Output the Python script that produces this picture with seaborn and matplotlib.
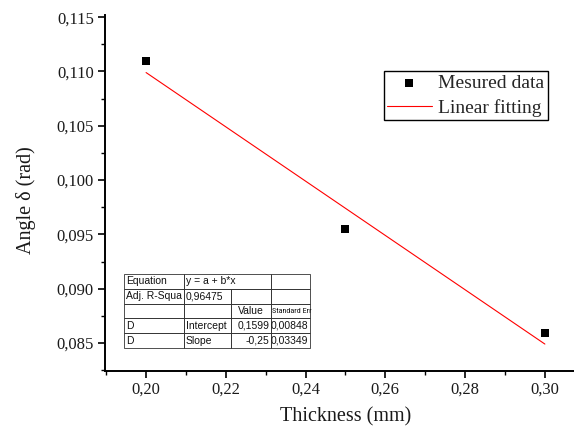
import matplotlib
matplotlib.use("Agg")
import matplotlib.pyplot as plt
import seaborn as sns
import pandas as pd
from matplotlib.ticker import MultipleLocator, FuncFormatter

sns.set_theme(style="white")
plt.rcParams['font.family'] = ['Liberation Serif', 'DejaVu Serif']

thickness = [0.20, 0.25, 0.30]
angle = [0.11095, 0.0955, 0.0859]
fit_x = [0.20, 0.30]
fit_y = [0.1099, 0.0849]

table_rows = [
    ["Equation", "y = a + b*x", "", ""],
    ["Adj. R-Squa", "0,96475", "", ""],
    ["", "", "Value", "Standard Err"],
    ["D", "Intercept", "0,1599", "0,00848"],
    ["D", "Slope", "-0,25", "0,03349"],
]

df = pd.DataFrame({"x": thickness, "y": angle})
dfit = pd.DataFrame({"x": fit_x, "y": fit_y})

fig = plt.figure(figsize=(5.74, 4.32), dpi=100)
ax = fig.add_axes([105/574, 61/432, 469/574, 356/432])

sns.scatterplot(data=df, x="x", y="y", ax=ax, marker="s", s=40, color="black",
                edgecolor="black", linewidth=0, label="Mesured data", zorder=3)
sns.lineplot(data=dfit, x="x", y="y", ax=ax, color="#ff0000", linewidth=0.8,
             label="Linear fitting")

ax.set_xlim(0.1897, 0.3073)
ax.set_ylim(0.08242, 0.1152)

for s in ["top", "right"]:
    ax.spines[s].set_visible(False)
for s in ["left", "bottom"]:
    ax.spines[s].set_color("black")
    ax.spines[s].set_linewidth(1.4)

ax.xaxis.set_major_locator(MultipleLocator(0.02))
ax.xaxis.set_minor_locator(MultipleLocator(0.01))
ax.yaxis.set_major_locator(MultipleLocator(0.005))
ax.yaxis.set_minor_locator(MultipleLocator(0.0025))
ax.xaxis.set_major_formatter(FuncFormatter(lambda v, p: f"{v:.2f}".replace(".", ",")))
ax.yaxis.set_major_formatter(FuncFormatter(lambda v, p: f"{v:.3f}".replace(".", ",")))
ax.tick_params(which="major", direction="out", length=5, width=1.2, color="black",
               labelsize=12, labelcolor="#1a1a1a", bottom=True, left=True, pad=3)
ax.tick_params(which="minor", direction="out", length=3, width=1.0, color="black",
               bottom=True, left=True)

ax.set_xlabel("Thickness (mm)", fontsize=14.5, color="#1a1a1a")
ax.set_ylabel("Angle δ (rad)", fontsize=14.5, color="#1a1a1a")
ax.xaxis.set_label_coords(0.514, -0.129)
ax.yaxis.set_label_coords(-0.169, 0.48)
ax.xaxis.label.set_va("center")
ax.yaxis.label.set_va("center")

leg = ax.legend(loc="upper left", bbox_to_anchor=(0.595, 0.842), fontsize=14,
                frameon=True, fancybox=False, edgecolor="black", framealpha=1,
                handlelength=2.3, borderpad=0.15, labelspacing=0.38, handletextpad=0.35,
                borderaxespad=0)
leg.get_frame().set_linewidth(1.0)

# Fit result table
tx0 = (124 - 105) / 469
tw = (310 - 124) / 469
ty0 = (371 - 348) / 356
th = (348 - 274) / 356
colw = [(184 - 124) / 186, (231 - 184) / 186, (271 - 231) / 186, (310 - 271) / 186]
tbl = ax.table(cellText=table_rows, colWidths=colw, bbox=[tx0, ty0, tw, th],
               cellLoc="left", zorder=5)
tbl.auto_set_font_size(False)
for (r, c), cell in tbl.get_celld().items():
    cell.set_linewidth(0.6)
    cell.set_edgecolor("#333333")
    cell.set_facecolor("none")
    cell.PAD = 0.04
    t = cell.get_text()
    t.set_fontfamily("Liberation Sans")
    t.set_fontsize(7.5)
    t.set_clip_on(False)
    t.set_color("#111111")
    if c >= 2:
        cell._loc = "right"
        t.set_ha("right")
tbl[2, 2]._loc = "center"
tbl[2, 2].get_text().set_ha("center")
se = tbl[2, 3]
se._loc = "left"
se.PAD = 0.02
se.get_text().set_ha("left")
se.get_text().set_fontfamily("Roboto Condensed")
se.get_text().set_fontsize(5.9)
tbl[0, 1].visible_edges = "BTL"
tbl[0, 2].visible_edges = "BTR"

fig.savefig("out.png", dpi=100)
